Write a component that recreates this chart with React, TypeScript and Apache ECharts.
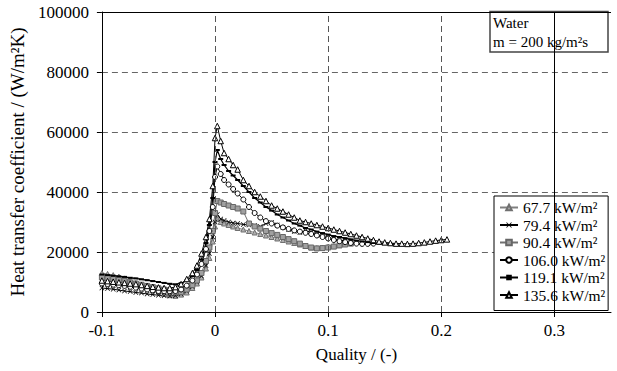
import React, { useEffect, useRef } from 'react';
import * as echarts from 'echarts';

const FONT = 'Liberation Serif';

// shared quality grid
const quality = [
  -0.1, -0.095, -0.09, -0.085, -0.08, -0.075, -0.07, -0.065, -0.06, -0.055, -0.05, -0.045, -0.04, -0.035,
  -0.03, -0.025, -0.02, -0.016, -0.012, -0.008, -0.005, -0.002, 0, 0.002, 0.005, 0.008, 0.012, 0.016, 0.02,
  0.025, 0.03, 0.035, 0.04, 0.045, 0.05, 0.055, 0.06, 0.065, 0.07,
  0.075, 0.08, 0.085, 0.09, 0.095, 0.1, 0.105, 0.11, 0.115, 0.12,
  0.125, 0.13, 0.135, 0.14, 0.145, 0.15, 0.155, 0.16, 0.165, 0.17,
  0.175, 0.18, 0.185, 0.19, 0.195, 0.2, 0.205,
];

const h677 = [
  13000, 12700, 12300, 11800, 11200, 10500, 9700, 8900, 8100, 7300, 6600, 6000, 5600, 5400,
  5800, 6500, 8000, 9500, 11500, 14500, 18000, 23500, 28500, 31000, 30000, 29500, 29000, 28500, 28000,
  27500, 27000, 26500, 26000, 25500, 25000, 24500, 24000, 23500, 23000,
  22500, 22000, 21500, 21300, 21500, 21800, 22000, 22300, null, null,
  null, null, null, null, null, null, null, null, null, null,
  null, null, null, null, null, null, null,
];

const h794 = [
  8000, 7800, 7600, 7300, 7000, 6800, 6500, 6300, 6000, 5800, 5600, 5400, 5300, 5400,
  6000, 7000, 8500, 10000, 12000, 15500, 19500, 25000, 30000, 32500, 31000, 30500, 30000, 29700, 29500,
  29200, 29000, 28800, 28500, 29500, 29800, 29000, 28200, 27500, 26800,
  26500, 27200, 26500, 25800, 25200, 24800, 24400, 24000, 23700, 23400,
  null, null, null, null, null, null, null, null, null, null,
  null, null, null, null, null, null, null,
];

const h904 = [
  11500, 11300, 11000, 10700, 10300, 9900, 9500, 9100, 8700, 8300, 7900, 7500, 7000, 6600,
  6600, 7500, 9000, 10500, 13000, 17000, 21500, 27000, 33000, 37000, 36500, 36000, 35500, 35000, 34500,
  33500, 29500, 28500, 27800, 27000, 26300, 25700, 25000, 24300, 23600,
  22800, 22000, 21500, 21200, 21300, 21500, 21800, 22200, 22500, 22800,
  null, null, null, null, null, null, null, null, null, null,
  null, null, null, null, null, null, null,
];

const h1060 = [
  9500, 9300, 9100, 8900, 8700, 8400, 8100, 7800, 7500, 7200, 7000, 6900, 6900, 7000,
  7500, 8800, 10500, 12500, 16000, 21000, 27000, 35000, 45000, 48500, 46000, 44000, 42500, 41000, 39500,
  37500, 35000, 33000, 31500, 30300, 29500, 28800, 28200, 27700, 27200,
  26800, 26400, 26000, 25500, 25000, 24500, 24000, 23600, 23300, 23000,
  22800, 22700, 22700, 22800, null, null, null, null, null, null,
  null, null, null, null, null, null, null,
];

const h1191 = [
  12500, 12300, 12100, 11900, 11700, 11400, 11200, 10900, 10600, 10300, 10000, 9700, 9400, 9200,
  9600, 10500, 12000, 14000, 17500, 23000, 29000, 38000, 50000, 54000, 51000, 49000, 47000, 45500, 44000,
  42000, 40000, 38000, 36500, 35000, 33800, 32500, 31500, 30500, 29500,
  28800, 28000, 27500, 26800, 26300, 25800, 25300, 25000, 24600, 24200,
  23800, 23500, 23300, 23000, 22800, 22700, 22600, 22600, null, null,
  null, null, null, null, null, null, null,
];

const h1356 = [
  10500, 10300, 10100, 9900, 9700, 9500, 9300, 9000, 8700, 8400, 8200, 8000, 8000, 8300,
  9300, 11000, 13000, 15500, 19500, 25000, 31000, 42000, 58000, 62000, 57000, 53000, 51000, 49000, 47500,
  44000, 42000, 40000, 38500, 37000, 35500, 34500, 33500, 32500, 31500,
  30500, 30000, 29500, 29000, 28500, 28000, 27500, 27000, 26500, 26000,
  25500, 25000, 24500, 24000, 23500, 23200, 23000, 22800, 22800, 22700,
  22800, 23000, 23200, 23500, 23800, 24000, 24200,
];

const seriesNames = ['67.7 kW/m²', '79.4 kW/m²', '90.4 kW/m²', '106.0 kW/m²', '119.1 kW/m²', '135.6 kW/m²'];
const xTickValues = [-0.1, 0, 0.1, 0.2, 0.3];
const xDashedLines = [0, 0.1, 0.2];
const xSolidLine = 0.3;
const yTop = 100000;

const CROSS = 'path://M0,1L1,0L5,4L9,0L10,1L6,5L10,9L9,10L5,6L1,10L0,9L4,5Z';

function pairs(vals: (number | null)[]) {
  const out: number[][] = [];
  quality.forEach((q, i) => {
    const v = vals[i];
    if (v !== null && v !== undefined) out.push([q, v]);
  });
  return out;
}

export default function App() {
  const ref = useRef<HTMLDivElement>(null);
  useEffect(() => {
    if (!ref.current) return;
    const chart = echarts.init(ref.current, undefined, { renderer: 'svg' });
    const base = { type: 'line', showSymbol: true, z: 2 };
    const option: any = {
      animation: false,
      backgroundColor: '#fff',
      textStyle: { fontFamily: FONT, color: '#000' },
      grid: { left: 96, right: 6, top: 12, bottom: 59 },
      xAxis: {
        type: 'value', min: -0.1, max: 0.35, interval: 0.1,
        axisLine: { show: true, onZero: false, lineStyle: { color: '#000', width: 1 } },
        axisTick: { show: true, length: 5, customValues: xTickValues, lineStyle: { color: '#000' } },
        axisLabel: {
          customValues: xTickValues, color: '#000', fontSize: 17, fontFamily: FONT, margin: 10,
          formatter: (v: number) => String(v),
        },
        splitLine: { show: false },
        name: 'Quality / (-)', nameLocation: 'middle', nameGap: 34,
        nameTextStyle: { color: '#000', fontSize: 17, fontFamily: FONT },
      },
      yAxis: {
        type: 'value', min: 0, max: 100000, interval: 20000,
        axisLine: { show: true, onZero: false, lineStyle: { color: '#000', width: 1 } },
        axisTick: { show: true, length: 5, lineStyle: { color: '#000' } },
        axisLabel: {
          color: '#000', fontSize: 17, fontFamily: FONT, margin: 13,
          formatter: (v: number) => String(v),
        },
        splitLine: { show: true, lineStyle: { color: '#666', type: [6, 4], width: 1 } },
        name: 'Heat transfer coefficient / (W/m²K)', nameLocation: 'middle', nameGap: 64,
        nameTextStyle: { color: '#000', fontSize: 19, fontFamily: FONT },
      },
      legend: {
        orient: 'vertical', left: 494, top: 196,
        backgroundColor: '#fff', borderColor: '#000', borderWidth: 1, borderRadius: 0,
        padding: [3, 3, 7, 5], itemGap: 0.5, itemWidth: 18, itemHeight: 7,
        textStyle: { fontSize: 15.5, fontFamily: FONT, color: '#000', lineHeight: 17 },
        data: seriesNames,
      },
      series: [
        {
          ...base, name: seriesNames[0], data: pairs(h677),
          symbol: 'triangle', symbolSize: 5,
          lineStyle: { color: '#808080', width: 1 },
          itemStyle: { color: '#b0b0b0', borderColor: '#707070', borderWidth: 1 },
          markLine: {
            silent: true, symbol: ['none', 'none'], label: { show: false }, animation: false,
            data: [
              ...xDashedLines.map((v) => ({ xAxis: v, lineStyle: { type: [6, 4], color: '#555', width: 1 } })),
              { xAxis: xSolidLine, lineStyle: { type: 'solid', color: '#000', width: 1 } },
              { yAxis: yTop, lineStyle: { type: 'solid', color: '#000', width: 1 } },
            ],
          },
        },
        {
          ...base, name: seriesNames[1], data: pairs(h794),
          symbol: CROSS, symbolSize: 5,
          lineStyle: { color: '#000', width: 1 },
          itemStyle: { color: '#000' },
        },
        {
          ...base, name: seriesNames[2], data: pairs(h904),
          symbol: 'rect', symbolSize: 5,
          lineStyle: { color: '#707070', width: 1 },
          itemStyle: { color: '#a0a0a0', borderColor: '#666', borderWidth: 1 },
        },
        {
          ...base, name: seriesNames[3], data: pairs(h1060),
          symbol: 'circle', symbolSize: 5,
          lineStyle: { color: '#000', width: 1 },
          itemStyle: { color: '#fff', borderColor: '#000', borderWidth: 1 },
        },
        {
          ...base, name: seriesNames[4], data: pairs(h1191),
          symbol: 'rect', symbolSize: [5, 2],
          lineStyle: { color: '#000', width: 1.2 },
          itemStyle: { color: '#000' },
        },
        {
          ...base, name: seriesNames[5], data: pairs(h1356),
          symbol: 'triangle', symbolSize: 5.5,
          lineStyle: { color: '#000', width: 1 },
          itemStyle: { color: '#fff', borderColor: '#000', borderWidth: 1 },
        },
      ],
      graphic: [
        {
          type: 'group', z: 100,
          children: [
            { type: 'rect', shape: { x: 490, y: 11.5, width: 118, height: 40.5 }, style: { fill: '#fff', stroke: '#444', lineWidth: 1.5 } },
            { type: 'text', x: 493, y: 23, style: { text: 'Water', fontSize: 15, fontFamily: FONT, fill: '#000', verticalAlign: 'middle' } },
            { type: 'text', x: 493, y: 42, style: { text: 'm = 200 kg/m²s', fontSize: 15, fontFamily: FONT, fill: '#000', verticalAlign: 'middle' } },
          ],
        },
      ],
    };
    chart.setOption(option);
    return () => chart.dispose();
  }, []);
  return <div ref={ref} style={{ position: 'fixed', left: 0, top: 0, width: 617, height: 371 }} />;
}
